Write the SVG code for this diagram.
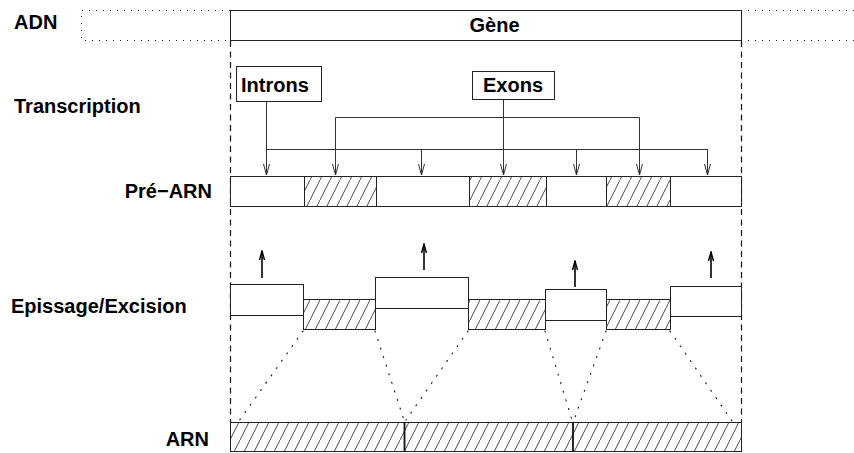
<svg xmlns="http://www.w3.org/2000/svg" width="854" height="453" viewBox="0 0 854 453">
<style>
text{font-family:"Liberation Sans",Arial,sans-serif;font-weight:bold;font-size:20px;fill:#000}
.box{fill:#fff;stroke:#222;stroke-width:1}
.hat{fill:url(#hatch);stroke:#222;stroke-width:1}
.dot{fill:none;stroke:#222;stroke-width:1;stroke-dasharray:1 6}
.dash{fill:none;stroke:#111;stroke-width:1.2;stroke-dasharray:6 4.5}
.ln{fill:none;stroke:#333;stroke-width:1}
.dots{fill:none;stroke:#222;stroke-width:1.2;stroke-dasharray:1 8;stroke-linecap:round}
.up{fill:none;stroke:#000;stroke-width:1.6}
</style>
<defs>
<pattern id="hatch" patternUnits="userSpaceOnUse" width="10" height="20">
<path d="M-1,22 L11,-2" stroke="#333" stroke-width="0.9" fill="none"/>
</pattern>
<marker id="v" markerUnits="userSpaceOnUse" viewBox="-1 -4 13 8" refX="11" refY="0" markerWidth="13" markerHeight="8" orient="auto">
<path d="M0,-3 L11,0 L0,3" fill="none" stroke="#333" stroke-width="1"/>
</marker>
<marker id="u" markerUnits="userSpaceOnUse" viewBox="-1 -4 11 8" refX="9" refY="0" markerWidth="11" markerHeight="8" orient="auto">
<path d="M0,-2.5 L9,0 L0,2.5" fill="none" stroke="#000" stroke-width="1.4"/>
</marker>
</defs>
<rect width="854" height="453" fill="#fff"/>

<g id="labels">
<text x="14" y="29">ADN</text>
<text x="14" y="113">Transcription</text>
<text x="212" y="198" text-anchor="end">Pré−ARN</text>
<text x="11" y="313">Epissage/Excision</text>
<text x="209" y="446" text-anchor="end">ARN</text>
</g>

<g id="adn">
<path class="dot" d="M230,10.5 H81.5 V40.5 H230"/>
<path class="dot" d="M741,10.5 H854 M741,40.5 H854"/>
</g>

<g id="gene">
<rect class="box" x="230.5" y="10.5" width="511" height="30"/>
<text x="494.5" y="32" text-anchor="middle">Gène</text>
</g>

<g id="guides">
<path class="dash" d="M230.5,41 V422 M741.5,41 V422"/>
</g>

<g id="introns">
<rect class="box" x="236.5" y="66.5" width="85" height="35"/>
<text x="241" y="92">Introns</text>
</g>

<g id="exons">
<rect class="box" x="472.5" y="71.5" width="82" height="28"/>
<text x="483" y="92">Exons</text>
</g>

<g id="connectors">
<path class="ln" d="M266.5,102 V149.5 H707.5"/>
<path class="ln" d="M266.5,149 V175" marker-end="url(#v)"/>
<path class="ln" d="M421.5,149 V175" marker-end="url(#v)"/>
<path class="ln" d="M576.5,149 V175" marker-end="url(#v)"/>
<path class="ln" d="M707.5,149 V175" marker-end="url(#v)"/>
<path class="ln" d="M335.5,118 V117.5 H639.5"/>
<path class="ln" d="M503.5,100 V175" marker-end="url(#v)"/>
<path class="ln" d="M335.5,117.5 V175" marker-end="url(#v)"/>
<path class="ln" d="M639.5,117.5 V175" marker-end="url(#v)"/>
<path class="up" d="M262,278 V251" marker-end="url(#u)"/>
<path class="up" d="M424,270 V244" marker-end="url(#u)"/>
<path class="up" d="M575,287 V261" marker-end="url(#u)"/>
<path class="up" d="M711,278 V252" marker-end="url(#u)"/>
<path class="dots" d="M303,331 L239,421"/>
<path class="dots" d="M375,331 L404,420"/>
<path class="dots" d="M468,331 L406,420"/>
<path class="dots" d="M545,331 L572,420"/>
<path class="dots" d="M606,331 L574,420"/>
<path class="dots" d="M670,331 L732,421"/>
</g>

<g id="pre-arn">
<rect class="box" x="230.5" y="176.5" width="511" height="30"/>
<rect class="hat" x="304.5" y="176.5" width="72" height="30"/>
<rect class="hat" x="469.5" y="176.5" width="77" height="30"/>
<rect class="hat" x="606.5" y="176.5" width="64" height="30"/>
</g>

<g id="epissage">
<rect class="box" x="230.5" y="284.5" width="73" height="31"/>
<rect class="hat" x="303.5" y="299.5" width="72" height="30"/>
<rect class="box" x="375.5" y="277.5" width="93" height="31"/>
<rect class="hat" x="468.5" y="299.5" width="77" height="30"/>
<rect class="box" x="545.5" y="289.5" width="61" height="31"/>
<rect class="hat" x="606.5" y="299.5" width="64" height="30"/>
<rect class="box" x="670.5" y="286.5" width="71" height="30"/>
</g>

<g id="arn">
<rect class="hat" x="230.5" y="422.5" width="511" height="29"/>
<path d="M404.5,422 V452 M573,422 V452" stroke="#111" stroke-width="1.8" fill="none"/>
</g>
</svg>
